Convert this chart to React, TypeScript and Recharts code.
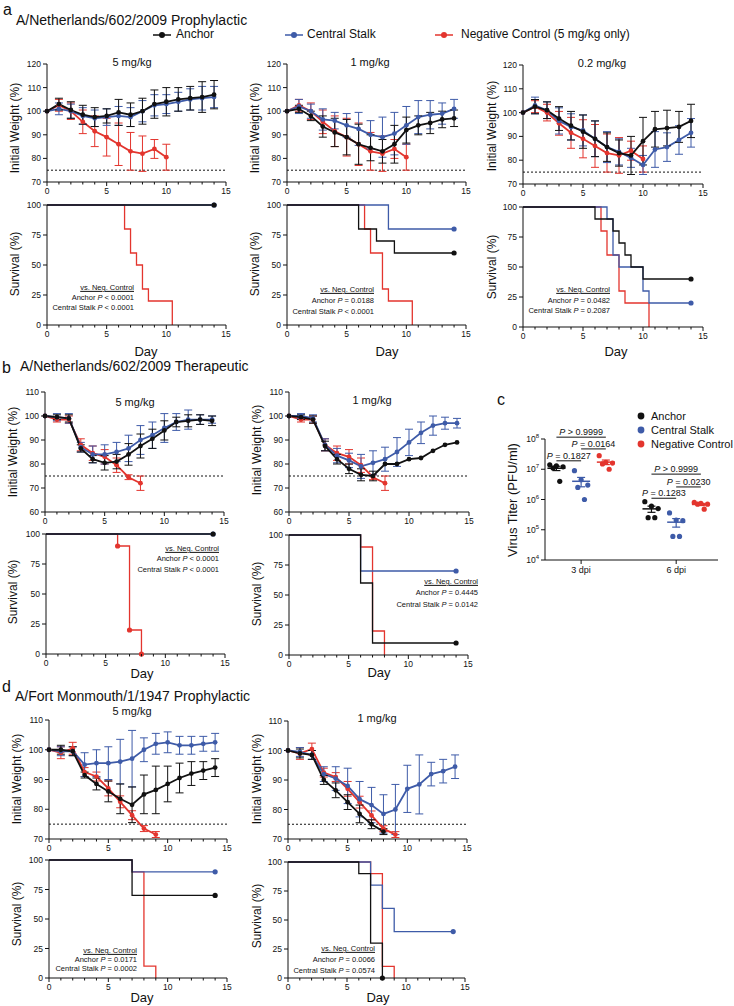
import React from 'react';
import { ComposedChart, Line, Scatter, XAxis, YAxis, ErrorBar, ReferenceLine } from 'recharts';

const FONT = "'Liberation Sans', Arial, Helvetica, sans-serif";
const INK = '#111111';
const C_ANCHOR = '#111111';
const C_STALK = '#3e5ba8';
const C_NEG = '#e3352e';

// ---- shared ticks ----
const DAYS = [0, 1, 2, 3, 4, 5, 6, 7, 8, 9, 10, 11, 12, 13, 14];
const DAY_TICKS = [0, 1, 2, 3, 4, 5, 6, 7, 8, 9, 10, 11, 12, 13, 14, 15];
const WEIGHT_TICKS_A = [70, 80, 90, 100, 110, 120];
const WEIGHT_TICKS_B = [60, 70, 80, 90, 100, 110];
const WEIGHT_TICKS_D = [70, 80, 90, 100, 110];
const SURV_TICKS = [0, 25, 50, 75, 100];
const TITER_TICKS = [1e4, 1e5, 1e6, 1e7, 1e8];
const DPI_LABELS = ['3 dpi', '6 dpi'];

// ---- a: A/Netherlands/602/2009 prophylactic, weight (% of initial) ----
const A_NEG = [100, 102.5, 100, 95.5, 91.5, 89, 86, 83, 82, 84, 80.5];
const A_NEG_ERR = [0, 2.5, 3.5, 5, 6.5, 8, 9, 8, 7.5, 4, 5.5];
const A5_ANCHOR = [100, 103, 100.5, 98.5, 97.5, 98, 99.5, 98.5, 100, 103, 104, 105, 105.5, 106, 107];
const A5_ANCHOR_ERR = [0, 2.5, 3.5, 4, 4, 3, 5.5, 5, 5.5, 6, 6, 5, 5, 6.5, 6];
const A5_STALK = [100, 101, 100, 98, 97, 97.5, 98, 97.5, 100, 102.5, 103, 104, 105, 105.5, 106];
const A5_STALK_ERR = [0, 2.5, 3, 3.5, 3.5, 3.5, 4, 4, 4.5, 4.5, 4, 4, 4.5, 5, 4.5];
const A1_ANCHOR = [100, 101, 98, 93.5, 91, 89, 86, 84.5, 83, 86, 92, 94, 95, 96.5, 97];
const A1_ANCHOR_ERR = [0, 1.5, 2, 4.5, 6, 7.5, 8.5, 5.5, 5, 8, 5.5, 4, 4.5, 3.5, 3.5];
const A1_STALK = [100, 102, 100, 96.5, 96, 94, 92.5, 90, 89, 90.5, 94, 97.5, 98.5, 99, 101];
const A1_STALK_ERR = [0, 3, 3, 4.5, 3.5, 5, 7, 6, 8.5, 9, 8, 7, 6, 4.5, 4];
const A02_ANCHOR = [100, 102.5, 101, 97.5, 94.5, 92, 89, 85.5, 83, 82, 88, 93, 93.5, 94, 96.5];
const A02_ANCHOR_ERR = [0, 3, 3.5, 5, 6, 7, 7.5, 6, 5.5, 8, 10, 7.5, 7.5, 6.5, 7];
const A02_STALK = [100, 103, 101, 96.5, 94, 92.5, 89, 85.5, 83.5, 81, 78, 84.5, 85.5, 88.5, 91.5];
const A02_STALK_ERR = [0, 3.5, 3.5, 5.5, 5.5, 6.5, 7.5, 6.5, 5.5, 4, 4, 7.5, 6, 6, 6];

// survival [day, %]
const SA5_ANCHOR = [[0, 100], [14, 100]];
const SA5_STALK = [[0, 100], [14, 100]];
const SA5_NEG = [[0, 100], [6.5, 80], [7, 60], [7.5, 50], [8, 30], [8.5, 20], [10.5, 0]];
const SA1_ANCHOR = [[0, 100], [6, 80], [7.5, 70], [9, 60], [14, 60]];
const SA1_STALK = [[0, 100], [8.5, 80], [14, 80]];
const SA_NEG = [[0, 100], [6.5, 80], [7, 60], [8, 30], [8.5, 20], [10.5, 0]];
const SA02_ANCHOR = [[0, 100], [6, 90], [7.5, 80], [8, 70], [8.5, 60], [9, 50], [10, 40], [14, 40]];
const SA02_STALK = [[0, 100], [7, 90], [7.5, 60], [8, 50], [10, 30], [10.5, 20], [14, 20]];

// ---- b: A/Netherlands/602/2009 therapeutic ----
const B_NEG = [100, 98.5, 98.5, 88, 84.5, 83, 79.5, 74.5, 72];
const B_NEG_ERR = [0, 1, 1.5, 2.5, 3, 3, 3, 1, 3];
const B5_ANCHOR = [100, 99.5, 99, 86.5, 82, 80.5, 81, 84, 87.5, 90.5, 94, 97.5, 98, 98.5, 98];
const B5_ANCHOR_ERR = [0, 1, 1.5, 1.5, 1.5, 3, 3, 4.5, 5, 4, 4, 2, 2.5, 2, 2];
const B5_STALK = [100, 99.5, 99, 87, 84, 84, 85, 86.5, 90, 92, 95, 97.5, 98.5, 98.5, 98.5];
const B5_STALK_ERR = [0, 1.5, 2, 2, 3.5, 4, 4, 5.5, 6, 5.5, 6, 3.5, 4, 2, 1.5];
const B1_ANCHOR = [100, 99.5, 98.5, 87.5, 82, 78, 75.5, 75, 80, 80, 82, 82.5, 85.5, 88, 89];
const B1_ANCHOR_ERR = [0, 1, 1.5, 2, 2, 2, 2.5, 2, 0, 0, 0, 0, 0, 0, 0];
const B1_STALK = [100, 100, 99, 88, 83.5, 81.5, 79, 80.5, 82, 85, 89, 93, 96, 97, 97];
const B1_STALK_ERR = [0, 1, 1.5, 2.5, 3, 3, 5, 5, 5, 6, 5.5, 4.5, 4, 2.5, 2];

const SB5_ANCHOR = [[0, 100], [14, 100]];
const SB5_STALK = [[0, 100], [14, 100]];
const SB_NEG = [[0, 100], [6, 90], [7, 20], [8, 0]];
const SB1_ANCHOR = [[0, 100], [6, 60], [7, 10], [14, 10]];
const SB1_STALK = [[0, 100], [6, 70], [14, 70]];

// ---- c: virus titer (PFU/ml) ----
const C_ANCHOR_3 = [1.4e7, 1.3e7, 1.2e7, 1.1e7, 4e6];
const C_STALK_3 = [9e6, 4.5e6, 3e6, 2.5e6, 1e6];
const C_NEG_3 = [2.8e7, 1.7e7, 1.6e7, 1.5e7, 1e7];
const C_ANCHOR_6 = [8.5e5, 6e5, 5e5, 2.5e5, 2.5e5];
const C_STALK_6 = [3.6e5, 2.1e5, 2e5, 6e4, 6e4];
const C_NEG_6 = [8e5, 7.5e5, 7e5, 7e5, 4.8e5];
const COMPARISONS = [
  { dpi: 0, from: 'anchor', to: 'neg', level: 1.15e8, p: '> 0.9999' },
  { dpi: 0, from: 'stalk', to: 'neg', level: 4.7e7, p: '= 0.0164' },
  { dpi: 0, from: 'anchor', to: 'stalk', level: 1.9e7, p: '= 0.1827' },
  { dpi: 1, from: 'anchor', to: 'neg', level: 6.9e6, p: '> 0.9999' },
  { dpi: 1, from: 'stalk', to: 'neg', level: 2.6e6, p: '= 0.0230' },
  { dpi: 1, from: 'anchor', to: 'stalk', level: 1.1e6, p: '= 0.1283' },
];

// ---- d: A/Fort Monmouth/1/1947 prophylactic ----
const D_NEG = [100, 99, 100.5, 92.5, 91, 87, 82.5, 78, 73.5, 71.5];
const D_NEG_ERR = [0, 2, 2, 1.5, 1.5, 2.5, 2, 1.5, 1, 1];
const D5_ANCHOR = [100, 100, 99.5, 91.5, 88.5, 86, 83.5, 81.5, 85, 86.5, 88.5, 90.5, 92, 93, 94];
const D5_ANCHOR_ERR = [0, 1.5, 1.5, 1, 2, 3.5, 5, 6, 6.5, 8, 6, 5, 4, 3, 3];
const D5_STALK = [100, 99.5, 99.5, 95, 95.5, 95.5, 96, 97, 100, 102, 102.5, 101.5, 101.5, 102, 102.5];
const D5_STALK_ERR = [0, 1.5, 1.5, 4, 4.5, 5.5, 7.5, 9.5, 4, 3.5, 3.5, 3, 3, 2.5, 3];
const D1_ANCHOR = [100, 99, 98.5, 90, 86.5, 82.5, 78.5, 75, 72.5];
const D1_ANCHOR_ERR = [0, 1.5, 1.5, 1.5, 2.5, 2.5, 3, 1.5, 1];
const D1_STALK = [100, 99.5, 98.5, 92, 90.5, 88, 83.5, 81.5, 78.5, 80, 87, 88.5, 92, 93, 94.5];
const D1_STALK_ERR = [0, 1.5, 1.5, 2.5, 4, 6, 6, 6, 6.5, 8.5, 8, 10, 4, 4, 4];

const SD5_ANCHOR = [[0, 100], [7, 70], [14, 70]];
const SD5_STALK = [[0, 100], [7, 90], [14, 90]];
const SD_NEG = [[0, 100], [7, 90], [8, 10], [9, 0]];
const SD1_ANCHOR = [[0, 100], [6, 90], [7, 30], [8, 0]];
const SD1_STALK = [[0, 100], [7, 80], [8, 60], [9, 40], [14, 40]];

// ---------------------------------------------------------------

const pts = (mean: number[], err: number[]) => mean.map((v, i) => ({ day: DAYS[i], v, e: err[i] }));
const steps = (s: number[][]) => s.map(([day, v]) => ({ day, v }));

type Box = { x0: number; x1: number; y0: number; y1: number };
const ML = 34, MR = 10, MT = 8, MB = 20;

function frame(b: Box) {
  return { left: b.x0 - ML, top: b.y0 - MT, width: b.x1 - b.x0 + ML + MR, height: b.y1 - b.y0 + MT + MB };
}

function DayTick(props: any) {
  const { x, y, payload } = props;
  const major = payload.value % 5 === 0;
  const axisY = y - 6;
  return (
    <g>
      <line x1={x} x2={x} y1={axisY} y2={axisY + (major ? 4 : 2.5)} stroke={INK} strokeWidth={1} />
      {major && (
        <text x={x} y={axisY + 6} dy="0.71em" textAnchor="middle" fontSize={8.5} fill={INK} fontFamily={FONT}>
          {payload.value}
        </text>
      )}
    </g>
  );
}

function DayAxis() {
  return (
    <XAxis type="number" dataKey="day" domain={[0, 15]} ticks={DAY_TICKS} interval={0} tick={<DayTick />}
      tickLine={false} tickSize={4} tickMargin={2} height={MB} axisLine={{ stroke: INK }} />
  );
}

function WeightChart({ box, domain, ticks, anchor, stalk, neg }: any) {
  const f = frame(box);
  const series = [
    { data: neg, color: C_NEG },
    { data: stalk, color: C_STALK },
    { data: anchor, color: C_ANCHOR },
  ];
  return (
    <div style={{ position: 'absolute', left: f.left, top: f.top }}>
      <ComposedChart width={f.width} height={f.height} margin={{ top: MT, right: MR, bottom: 0, left: 0 }}>
        {DayAxis()}
        <YAxis type="number" domain={domain} ticks={ticks} interval={0} width={ML} tickSize={4} tickMargin={2}
          tick={{ fontSize: 8.5, fill: INK, fontFamily: FONT }} axisLine={{ stroke: INK }} tickLine={{ stroke: INK }} allowDataOverflow />
        <ReferenceLine y={75} stroke={INK} strokeDasharray="2 2" strokeWidth={1} />
        {series.map((s, i) => (
          <Line key={i} data={s.data} dataKey="v" type="linear" stroke={s.color} strokeWidth={1.8}
            dot={{ r: 2.4, fill: s.color, stroke: s.color, strokeWidth: 0 }} activeDot={false} isAnimationActive={false}>
            <ErrorBar dataKey="e" width={4} stroke={s.color} strokeWidth={1} direction="y" isAnimationActive={false} />
          </Line>
        ))}
      </ComposedChart>
    </div>
  );
}

const survDot = (color: string, mode: string, n: number) => (p: any) => {
  const show = mode === 'all' ? p.index > 0 : mode === 'end' ? p.index === n - 1 : false;
  if (!show) return <g key={p.index} />;
  return <circle key={p.index} cx={p.cx} cy={p.cy} r={2.6} fill={color} />;
};

function SurvivalChart({ box, curves }: any) {
  const f = frame(box);
  return (
    <div style={{ position: 'absolute', left: f.left, top: f.top }}>
      <ComposedChart width={f.width} height={f.height} margin={{ top: MT, right: MR, bottom: 0, left: 0 }}>
        {DayAxis()}
        <YAxis type="number" domain={[0, 100]} ticks={SURV_TICKS} interval={0} width={ML} tickSize={4} tickMargin={2}
          tick={{ fontSize: 8.5, fill: INK, fontFamily: FONT }} axisLine={{ stroke: INK }} tickLine={{ stroke: INK }} />
        {curves.map((c: any, i: number) => (
          <Line key={i} data={steps(c.data)} dataKey="v" type="stepAfter" stroke={c.color} strokeWidth={1.3}
            dot={survDot(c.color, c.dots, c.data.length)} activeDot={false} isAnimationActive={false} />
        ))}
      </ComposedChart>
    </div>
  );
}

// ---- panel c ----
const GROUP_OFFSET: Record<string, number> = { anchor: -0.26, stalk: 0, neg: 0.26 };
const JITTER = [-0.07, 0, 0.07, -0.035, 0.035];
const CB: Box = { x0: 545, x1: 718, y0: 439, y1: 560 };
const CML = 40, CMT = 30, CMR = 12, CMB = 22;

const mean = (a: number[]) => a.reduce((s, v) => s + v, 0) / a.length;
const sem = (a: number[]) => {
  const m = mean(a);
  return Math.sqrt(a.reduce((s, v) => s + (v - m) ** 2, 0) / (a.length - 1)) / Math.sqrt(a.length);
};

function PowTick({ x, y, payload }: any) {
  const exp = Math.round(Math.log10(payload.value));
  return (
    <text x={x} y={y} dy={3} textAnchor="end" fontSize={8.5} fill={INK} fontFamily={FONT}>
      10<tspan dy={-4} fontSize={6}>{exp}</tspan>
    </text>
  );
}

function PLabel({ viewBox, text }: any) {
  if (!viewBox) return null;
  const { x, y, width } = viewBox;
  return (
    <text x={x + width / 2} y={y - 2} textAnchor="middle" fontSize={9} fill={INK} fontFamily={FONT}>
      <tspan fontStyle="italic">P</tspan>{' ' + text}
    </text>
  );
}

function TiterChart() {
  const groups = [
    { key: 'anchor', color: C_ANCHOR, vals: [C_ANCHOR_3, C_ANCHOR_6] },
    { key: 'stalk', color: C_STALK, vals: [C_STALK_3, C_STALK_6] },
    { key: 'neg', color: C_NEG, vals: [C_NEG_3, C_NEG_6] },
  ];
  const w = CB.x1 - CB.x0 + CML + CMR;
  const h = CB.y1 - CB.y0 + CMT + CMB;
  return (
    <div style={{ position: 'absolute', left: CB.x0 - CML, top: CB.y0 - CMT }}>
      <ComposedChart width={w} height={h} margin={{ top: CMT, right: CMR, bottom: 0, left: 0 }}>
        <XAxis type="number" dataKey="x" domain={[0.62, 2.44]} ticks={[1, 2]} interval={0} height={CMB}
          tickFormatter={(v: number) => DPI_LABELS[v - 1]} tickSize={4} tickMargin={3}
          tick={{ fontSize: 9, fill: INK, fontFamily: FONT }} axisLine={{ stroke: INK }} tickLine={{ stroke: INK }} allowDataOverflow />
        <YAxis type="number" dataKey="y" scale="log" domain={[1e4, 1e8]} ticks={TITER_TICKS} interval={0} width={CML}
          tickSize={4} tickMargin={2} tick={<PowTick />} axisLine={{ stroke: INK }} tickLine={{ stroke: INK }} allowDataOverflow />
        {groups.map((g) => (
          <Scatter key={g.key} isAnimationActive={false}
            data={g.vals.flatMap((arr, d) => arr.map((v, i) => ({ x: d + 1 + GROUP_OFFSET[g.key] + JITTER[i], y: v })))}
            shape={(p: any) => <circle cx={p.cx} cy={p.cy} r={2.6} fill={g.color} />} />
        ))}
        {groups.map((g) => (
          <Scatter key={g.key + 'm'} isAnimationActive={false}
            data={g.vals.map((arr, d) => ({ x: d + 1 + GROUP_OFFSET[g.key], y: mean(arr), e: sem(arr) }))}
            shape={(p: any) => <line x1={p.cx - 9} x2={p.cx + 9} y1={p.cy} y2={p.cy} stroke={g.color} strokeWidth={1.5} />}>
            <ErrorBar dataKey="e" width={4} stroke={g.color} strokeWidth={1.2} direction="y" isAnimationActive={false} />
          </Scatter>
        ))}
        {COMPARISONS.map((c, i) => (
          <ReferenceLine key={i} ifOverflow="visible" stroke={INK} strokeWidth={1}
            segment={[{ x: c.dpi + 1 + GROUP_OFFSET[c.from], y: c.level }, { x: c.dpi + 1 + GROUP_OFFSET[c.to], y: c.level }]}
            label={<PLabel text={c.p} />} />
        ))}
      </ComposedChart>
    </div>
  );
}

// ---- text helpers ----
function Txt({ x, y, size, anchor = 'start', children, style }: any) {
  const tx = anchor === 'middle' ? 'translate(-50%, -50%)' : anchor === 'end' ? 'translate(-100%, -50%)' : 'translateY(-50%)';
  return (
    <div style={{ position: 'absolute', left: x, top: y, transform: tx, fontSize: size, lineHeight: 1.1, whiteSpace: 'nowrap', color: INK, fontFamily: FONT, ...style }}>
      {children}
    </div>
  );
}

function VTxt({ x, y, size, children }: any) {
  return (
    <div style={{ position: 'absolute', left: x, top: y, transform: 'translate(-50%, -50%) rotate(-90deg)', fontSize: size, lineHeight: 1, whiteSpace: 'nowrap', color: INK, fontFamily: FONT }}>
      {children}
    </div>
  );
}

function Stats({ right, ys, anchorP, stalkP }: any) {
  return (
    <>
      <Txt x={right} y={ys[0]} size={7.5} anchor="end" style={{ textDecoration: 'underline' }}>vs. Neg. Control</Txt>
      <Txt x={right} y={ys[1]} size={7.5} anchor="end">Anchor <i>P</i> {anchorP}</Txt>
      <Txt x={right} y={ys[2]} size={7.5} anchor="end">Central Stalk <i>P</i> {stalkP}</Txt>
    </>
  );
}

function LegendMark({ x, y, color }: any) {
  return (
    <svg style={{ position: 'absolute', left: x - 10, top: y - 5 }} width={20} height={10}>
      <line x1={1} x2={19} y1={5} y2={5} stroke={color} strokeWidth={1.5} />
      <circle cx={10} cy={5} r={3} fill={color} />
    </svg>
  );
}

export default function App() {
  const wA = { domain: [70, 120], ticks: WEIGHT_TICKS_A };
  const wB = { domain: [60, 110], ticks: WEIGHT_TICKS_B };
  const wD = { domain: [70, 110], ticks: WEIGHT_TICKS_D };
  const aNeg = pts(A_NEG, A_NEG_ERR);
  const bNeg = pts(B_NEG, B_NEG_ERR);
  const dNeg = pts(D_NEG, D_NEG_ERR);
  const cv = (data: number[][], color: string, dots: string) => ({ data, color, dots });

  return (
    <div style={{ position: 'absolute', left: 0, top: 0, width: 734, height: 1006, background: '#fff', overflow: 'hidden', fontFamily: FONT }}>
      {/* panel a */}
      <Txt x={3} y={10} size={16}>a</Txt>
      <Txt x={16} y={21} size={14}>A/Netherlands/602/2009 Prophylactic</Txt>
      <LegendMark x={162} y={35} color={C_ANCHOR} />
      <Txt x={176} y={35} size={12}>Anchor</Txt>
      <LegendMark x={294} y={35} color={C_STALK} />
      <Txt x={307} y={35} size={12}>Central Stalk</Txt>
      <LegendMark x={444} y={35} color={C_NEG} />
      <Txt x={461} y={35} size={12}>Negative Control (5 mg/kg only)</Txt>

      <Txt x={132} y={62} size={11} anchor="middle">5 mg/kg</Txt>
      <Txt x={370} y={62} size={11} anchor="middle">1 mg/kg</Txt>
      <Txt x={602} y={63} size={11} anchor="middle">0.2 mg/kg</Txt>

      <WeightChart box={{ x0: 47, x1: 226, y0: 64, y1: 182 }} {...wA} anchor={pts(A5_ANCHOR, A5_ANCHOR_ERR)} stalk={pts(A5_STALK, A5_STALK_ERR)} neg={aNeg} />
      <WeightChart box={{ x0: 287, x1: 466, y0: 64, y1: 182 }} {...wA} anchor={pts(A1_ANCHOR, A1_ANCHOR_ERR)} stalk={pts(A1_STALK, A1_STALK_ERR)} neg={aNeg} />
      <WeightChart box={{ x0: 523, x1: 703, y0: 65, y1: 184 }} {...wA} anchor={pts(A02_ANCHOR, A02_ANCHOR_ERR)} stalk={pts(A02_STALK, A02_STALK_ERR)} neg={aNeg} />

      <SurvivalChart box={{ x0: 47, x1: 226, y0: 205, y1: 325 }} curves={[cv(SA5_NEG, C_NEG, 'none'), cv(SA5_STALK, C_STALK, 'end'), cv(SA5_ANCHOR, C_ANCHOR, 'end')]} />
      <SurvivalChart box={{ x0: 287, x1: 466, y0: 205, y1: 325 }} curves={[cv(SA_NEG, C_NEG, 'none'), cv(SA1_STALK, C_STALK, 'end'), cv(SA1_ANCHOR, C_ANCHOR, 'end')]} />
      <SurvivalChart box={{ x0: 523, x1: 703, y0: 207, y1: 327 }} curves={[cv(SA_NEG, C_NEG, 'none'), cv(SA02_STALK, C_STALK, 'end'), cv(SA02_ANCHOR, C_ANCHOR, 'end')]} />

      <Stats right={134} ys={[288, 298, 308]} anchorP="< 0.0001" stalkP="< 0.0001" />
      <Stats right={374} ys={[290, 301, 312]} anchorP="= 0.0188" stalkP="< 0.0001" />
      <Stats right={610} ys={[290, 301, 311]} anchorP="= 0.0482" stalkP="= 0.2087" />

      <VTxt x={15} y={128} size={12}>Initial Weight (%)</VTxt>
      <VTxt x={255} y={128} size={12}>Initial Weight (%)</VTxt>
      <VTxt x={492} y={126} size={12}>Initial Weight (%)</VTxt>
      <VTxt x={15} y={264} size={12}>Survival (%)</VTxt>
      <VTxt x={255} y={264} size={12}>Survival (%)</VTxt>
      <VTxt x={492} y={267} size={12}>Survival (%)</VTxt>
      <Txt x={146} y={352} size={13} anchor="middle">Day</Txt>
      <Txt x={387} y={352} size={13} anchor="middle">Day</Txt>
      <Txt x={616} y={352} size={13} anchor="middle">Day</Txt>

      {/* panel b */}
      <Txt x={2} y={368} size={16}>b</Txt>
      <Txt x={20} y={367} size={14}>A/Netherlands/602/2009 Therapeutic</Txt>
      <Txt x={135} y={402} size={11} anchor="middle">5 mg/kg</Txt>
      <Txt x={372} y={400} size={11} anchor="middle">1 mg/kg</Txt>
      <WeightChart box={{ x0: 45, x1: 224, y0: 392, y1: 512 }} {...wB} anchor={pts(B5_ANCHOR, B5_ANCHOR_ERR)} stalk={pts(B5_STALK, B5_STALK_ERR)} neg={bNeg} />
      <WeightChart box={{ x0: 289, x1: 469, y0: 392, y1: 512 }} {...wB} anchor={pts(B1_ANCHOR, B1_ANCHOR_ERR)} stalk={pts(B1_STALK, B1_STALK_ERR)} neg={bNeg} />
      <SurvivalChart box={{ x0: 46, x1: 225, y0: 534, y1: 654 }} curves={[cv(SB_NEG, C_NEG, 'all'), cv(SB5_STALK, C_STALK, 'end'), cv(SB5_ANCHOR, C_ANCHOR, 'end')]} />
      <SurvivalChart box={{ x0: 289, x1: 468, y0: 535, y1: 655 }} curves={[cv(SB_NEG, C_NEG, 'none'), cv(SB1_STALK, C_STALK, 'end'), cv(SB1_ANCHOR, C_ANCHOR, 'end')]} />
      <Stats right={219} ys={[549, 559, 570]} anchorP="< 0.0001" stalkP="< 0.0001" />
      <Stats right={478} ys={[582, 593, 605]} anchorP="= 0.4445" stalkP="= 0.0142" />
      <VTxt x={13} y={452} size={12}>Initial Weight (%)</VTxt>
      <VTxt x={257} y={450} size={12}>Initial Weight (%)</VTxt>
      <VTxt x={13} y={592} size={12}>Survival (%)</VTxt>
      <VTxt x={257} y={594} size={12}>Survival (%)</VTxt>
      <Txt x={142} y={674} size={13} anchor="middle">Day</Txt>
      <Txt x={379} y={673} size={13} anchor="middle">Day</Txt>

      {/* panel c */}
      <Txt x={497} y={400} size={16}>c</Txt>
      <svg style={{ position: 'absolute', left: 636, top: 408 }} width={10} height={44}>
        <circle cx={5} cy={8} r={3.4} fill={C_ANCHOR} />
        <circle cx={5} cy={22} r={3.4} fill={C_STALK} />
        <circle cx={5} cy={36} r={3.4} fill={C_NEG} />
      </svg>
      <Txt x={651} y={416} size={11}>Anchor</Txt>
      <Txt x={651} y={430} size={11}>Central Stalk</Txt>
      <Txt x={651} y={444} size={11}>Negative Control</Txt>
      <TiterChart />
      <VTxt x={512} y={500} size={13}>Virus Titer (PFU/ml)</VTxt>

      {/* panel d */}
      <Txt x={2} y={687} size={16}>d</Txt>
      <Txt x={15} y={697} size={14}>A/Fort Monmouth/1/1947 Prophylactic</Txt>
      <Txt x={132} y={711} size={11} anchor="middle">5 mg/kg</Txt>
      <Txt x={377} y={718} size={11} anchor="middle">1 mg/kg</Txt>
      <WeightChart box={{ x0: 49, x1: 227, y0: 720, y1: 839 }} {...wD} anchor={pts(D5_ANCHOR, D5_ANCHOR_ERR)} stalk={pts(D5_STALK, D5_STALK_ERR)} neg={dNeg} />
      <WeightChart box={{ x0: 288, x1: 467, y0: 721, y1: 839 }} {...wD} anchor={pts(D1_ANCHOR, D1_ANCHOR_ERR)} stalk={pts(D1_STALK, D1_STALK_ERR)} neg={dNeg} />
      <SurvivalChart box={{ x0: 49, x1: 227, y0: 860, y1: 978 }} curves={[cv(SD_NEG, C_NEG, 'none'), cv(SD5_STALK, C_STALK, 'end'), cv(SD5_ANCHOR, C_ANCHOR, 'end')]} />
      <SurvivalChart box={{ x0: 288, x1: 465, y0: 862, y1: 978 }} curves={[cv(SD_NEG, C_NEG, 'none'), cv(SD1_STALK, C_STALK, 'end'), cv(SD1_ANCHOR, C_ANCHOR, 'end')]} />
      <Stats right={137} ys={[951, 960, 969]} anchorP="= 0.0171" stalkP="= 0.0002" />
      <Stats right={375} ys={[949, 960, 971]} anchorP="= 0.0066" stalkP="= 0.0574" />
      <VTxt x={17} y={779} size={12}>Initial Weight (%)</VTxt>
      <VTxt x={257} y={779} size={12}>Initial Weight (%)</VTxt>
      <VTxt x={17} y={914} size={12}>Survival (%)</VTxt>
      <VTxt x={257} y={916} size={12}>Survival (%)</VTxt>
      <Txt x={142} y={998} size={13} anchor="middle">Day</Txt>
      <Txt x={378} y={998} size={13} anchor="middle">Day</Txt>
    </div>
  );
}
